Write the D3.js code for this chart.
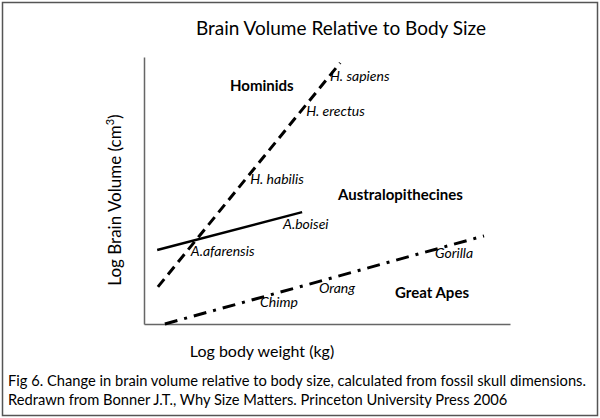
<!DOCTYPE html>
<html lang="en">
<head>
  <meta charset="UTF-8">
  <title>Brain Volume Relative to Body Size</title>
  <script src="https://d3js.org/d3.v7.min.js"></script>
  <style>
    body {
      margin: 0;
      background: white;
      font-family: Lato, "Noto Sans", sans-serif;
    }

    svg {
      display: block;
    }

    .species {
      font-style: italic;
      font-size: 14px;
    }

    .group {
      font-weight: bold;
      font-size: 15px;
    }
  </style>
</head>
<body>
  <svg id="chart"></svg>
  <script>
    // Arbitrary log units, 0..10 on both axes (the original has no ticks)
    const groups = ["Hominids", "Australopithecines", "Great Apes"];
    const hominidLine = [[0.38, 1.39], [5.36, 9.78]];
    const australoLine = [[0.36, 2.77], [4.32, 4.19]];
    const apeLine = [[0.57, 0.0], [9.29, 3.3]];

    // species label anchors (data units)
    const speciesNames = ["H. sapiens", "H. erectus", "H. habilis", "A.boisei", "A.afarensis", "Gorilla", "Orang", "Chimp"];
    const speciesX = [5.08, 4.43, 2.9, 3.8, 1.28, 7.95, 4.78, 3.17];
    const speciesY = [9.1, 7.79, 5.24, 3.56, 2.55, 2.47, 1.16, 0.64];

    const groupX = [2.35, 5.3, 6.86];
    const groupY = [8.73, 4.64, 0.97];

    const width = 600;
    const height = 418;

    const x = d3.scaleLinear().domain([0, 10]).range([144, 510]);
    const y = d3.scaleLinear().domain([0, 10]).range([324, 57]);

    const svg = d3.select("#chart")
      .attr("width", width)
      .attr("height", height);

    // frame round the figure
    svg.append("rect")
      .attr("x", 2.5)
      .attr("y", 2.5)
      .attr("width", width - 5)
      .attr("height", height - 5)
      .attr("fill", "white")
      .attr("stroke", "#555")
      .attr("stroke-width", 1.5);

    // Title
    svg.append("text")
      .attr("x", 341)
      .attr("y", 35)
      .attr("text-anchor", "middle")
      .attr("font-size", 19)
      .text("Brain Volume Relative to Body Size");

    // Axes, lines only
    const xAxis = d3.axisBottom(x).tickValues([]).tickSizeOuter(0);
    const yAxis = d3.axisLeft(y).tickValues([]).tickSizeOuter(0);

    svg.append("g")
      .attr("transform", `translate(0, ${y(0)})`)
      .call(xAxis)
      .select(".domain")
      .attr("stroke", "#666")
      .attr("stroke-width", 1.5);

    svg.append("g")
      .attr("transform", `translate(${x(0)}, 0)`)
      .call(yAxis)
      .select(".domain")
      .attr("stroke", "#666")
      .attr("stroke-width", 1.5);

    // Axis titles
    svg.append("text")
      .attr("x", 262)
      .attr("y", 357)
      .attr("text-anchor", "middle")
      .attr("font-size", 16)
      .text("Log body weight (kg)");

    const yLabel = svg.append("text")
      .attr("transform", "translate(121, 200) rotate(-90)")
      .attr("text-anchor", "middle")
      .attr("font-size", 17);
    yLabel.append("tspan").text("Log Brain Volume (cm");
    yLabel.append("tspan").attr("font-size", 11).attr("dy", -7).text("3");
    yLabel.append("tspan").attr("dy", 7).text(")");

    // Trend lines
    const line = d3.line().x(d => x(d[0])).y(d => y(d[1]));

    svg.append("path")
      .attr("d", line(hominidLine))
      .attr("fill", "none")
      .attr("stroke", "black")
      .attr("stroke-width", 3)
      .attr("stroke-dasharray", "10,6");

    svg.append("path")
      .attr("d", line(australoLine))
      .attr("fill", "none")
      .attr("stroke", "black")
      .attr("stroke-width", 2.5);

    svg.append("path")
      .attr("d", line(apeLine))
      .attr("fill", "none")
      .attr("stroke", "black")
      .attr("stroke-width", 3)
      .attr("stroke-dasharray", "13,7,3,7");

    // Species labels
    svg.selectAll(".species")
      .data(speciesNames)
      .enter()
      .append("text")
      .attr("class", "species")
      .attr("x", (d, i) => x(speciesX[i]))
      .attr("y", (d, i) => y(speciesY[i]))
      .text(d => d);

    // Group labels
    svg.selectAll(".group")
      .data(groups)
      .enter()
      .append("text")
      .attr("class", "group")
      .attr("x", (d, i) => x(groupX[i]))
      .attr("y", (d, i) => y(groupY[i]))
      .text(d => d);

    // Caption
    const caption = [
      "Fig 6. Change in brain volume relative to body size, calculated from fossil skull dimensions.",
      "Redrawn from Bonner J.T., Why Size Matters. Princeton University Press 2006"
    ];
    svg.selectAll(".caption")
      .data(caption)
      .enter()
      .append("text")
      .attr("class", "caption")
      .attr("x", 8)
      .attr("y", (d, i) => 386 + i * 19)
      .attr("font-size", 14.7)
      .text(d => d);
  </script>
</body>
</html>
